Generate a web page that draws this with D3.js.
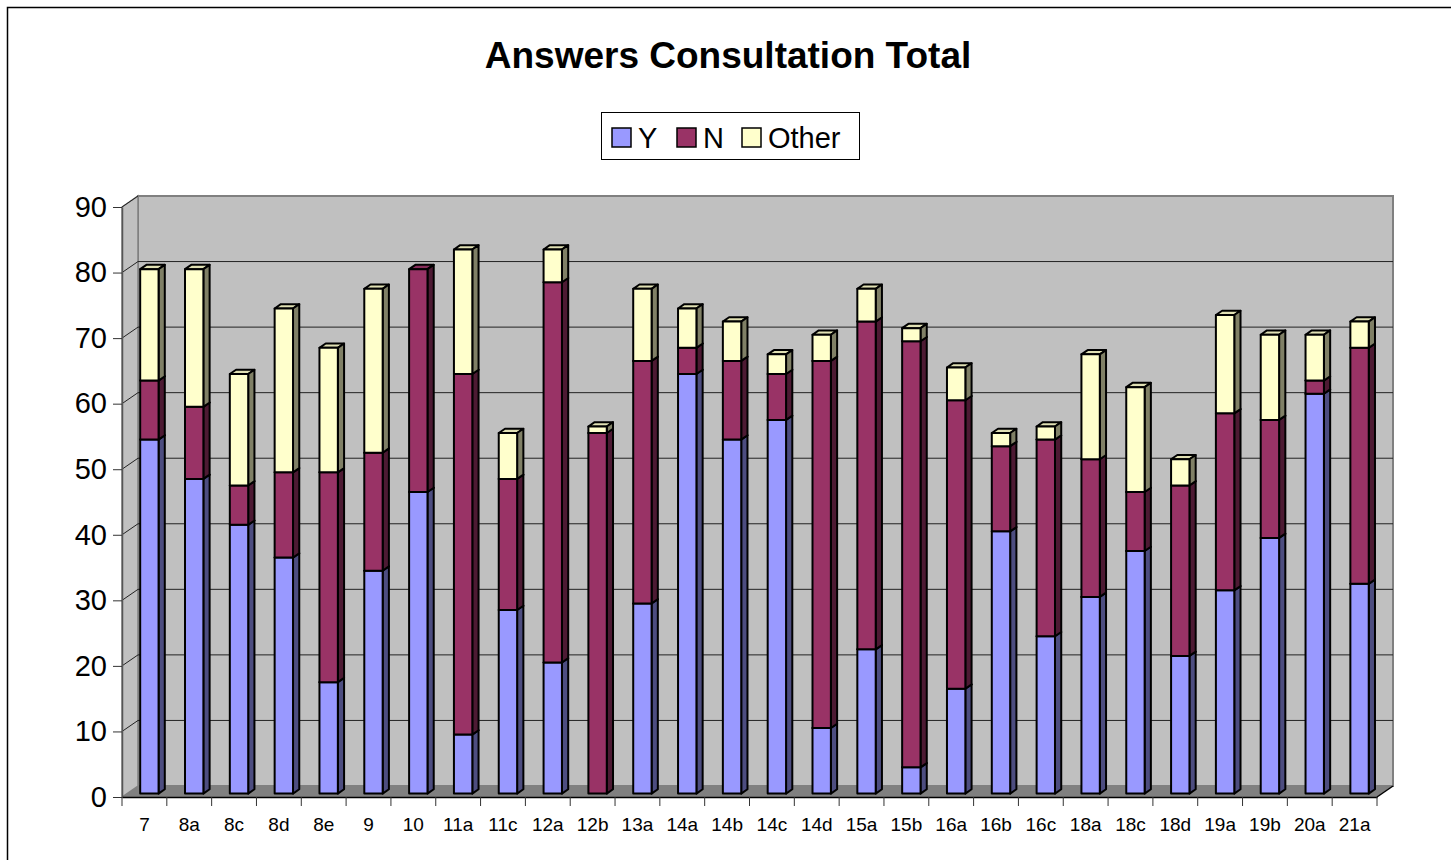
<!DOCTYPE html>
<html>
<head>
<meta charset="utf-8">
<script src="https://cdn.jsdelivr.net/npm/d3@7"></script>
<style>
	body { margin: 0; background: #fff; }
	text { font-family: Arial, "Liberation Sans", sans-serif; }
</style>
</head>
<body>
<div id="chart"></div>
<script>
const categories = ['7', '8a', '8c', '8d', '8e', '9', '10', '11a', '11c', '12a', '12b', '13a', '14a', '14b',
	'14c', '14d', '15a', '15b', '16a', '16b', '16c', '18a', '18c', '18d', '19a', '19b', '20a', '21a'];
const yesVals   = [54, 48, 41, 36, 17, 34, 46,  9, 28, 20,  0, 29, 64, 54, 57, 10, 22,  4, 16, 40, 24, 30, 37, 21, 31, 39, 61, 32];
const noVals    = [ 9, 11,  6, 13, 32, 18, 34, 55, 20, 58, 55, 37,  4, 12,  7, 56, 50, 65, 44, 13, 30, 21,  9, 26, 27, 18,  2, 36];
const otherVals = [17, 21, 17, 25, 19, 25,  0, 19,  7,  5,  1, 11,  6,  6,  3,  4,  5,  2,  5,  2,  2, 16, 16,  4, 15, 13,  7,  4];
const seriesNames = ['Y', 'N', 'Other'];
const yTicks = [0, 10, 20, 30, 40, 50, 60, 70, 80, 90];

const colors = { Y: '#9999ff', N: '#993366', Other: '#ffffcc' };

const W = 1451, H = 860;
const plot = { left: 122, right: 1377, top: 207, bottom: 797 };
// 3d depth of the walls
const DX = 16, DY = -11;
// bars sit in the middle of the depth
const t0 = 0.31, t1 = 0.70;

const svg = d3.select('#chart').append('svg')
	.attr('width', W).attr('height', H);

svg.append('rect')
	.attr('x', 7.5).attr('y', 7.5)
	.attr('width', W + 20).attr('height', H + 20)
	.attr('fill', '#fff').attr('stroke', '#000').attr('stroke-width', 1.5);

const x = d3.scaleBand()
	.domain(categories)
	.range([plot.left, plot.right])
	.paddingInner(0.59)
	.paddingOuter(0.295);
const y = d3.scaleLinear().domain([0, 90]).range([plot.bottom, plot.top]);

const pts = arr => arr.map(p => p.join(',')).join(' ');

// walls
svg.append('polygon')
	.attr('points', pts([[plot.left + DX, y(90) + DY], [plot.right + DX, y(90) + DY],
		[plot.right + DX, y(0) + DY], [plot.left + DX, y(0) + DY]]))
	.attr('fill', '#c0c0c0').attr('stroke', '#808080').attr('stroke-width', 2);
svg.append('polygon')
	.attr('points', pts([[plot.left, y(90)], [plot.left + DX, y(90) + DY],
		[plot.left + DX, y(0) + DY], [plot.left, y(0)]]))
	.attr('fill', '#c0c0c0').attr('stroke', '#808080').attr('stroke-width', 1.5);
svg.append('polygon')
	.attr('points', pts([[plot.left, y(0)], [plot.left + DX, y(0) + DY],
		[plot.right + DX, y(0) + DY], [plot.right, y(0)]]))
	.attr('fill', '#808080');

// gridlines on back and side walls
const grid = svg.append('g').attr('stroke', '#222').attr('stroke-width', 1);
yTicks.filter(v => v > 0 && v < 90).forEach(v => {
	grid.append('line')
		.attr('x1', plot.left + DX).attr('x2', plot.right + DX)
		.attr('y1', y(v) + DY).attr('y2', y(v) + DY);
});
yTicks.filter(v => v > 0).forEach(v => {
	grid.append('line')
		.attr('x1', plot.left).attr('x2', plot.left + DX)
		.attr('y1', y(v)).attr('y2', y(v) + DY);
});

// bars
const rows = categories.map((c, i) => ({ cat: c, Y: yesVals[i], N: noVals[i], Other: otherVals[i] }));
const stacked = d3.stack().keys(seriesNames)(rows);
const bw = x.bandwidth();
const bdx = (t1 - t0) * DX, bdy = (t1 - t0) * DY;

const bars = svg.append('g').attr('stroke', '#000').attr('stroke-width', 2).attr('stroke-linejoin', 'round');
stacked.forEach(s => {
	const base = d3.color(colors[s.key]);
	s.forEach(d => {
		if (d[1] === d[0]) return;
		const x0 = x(d.data.cat) + t0 * DX, x1 = x0 + bw;
		const yt = y(d[1]) + t0 * DY, yb = y(d[0]) + t0 * DY;
		const g = bars.append('g');
		g.append('polygon')
			.attr('points', pts([[x0, yt], [x0 + bdx, yt + bdy], [x1 + bdx, yt + bdy], [x1, yt]]))
			.attr('fill', base.darker(0.35));
		g.append('polygon')
			.attr('points', pts([[x1, yt], [x1 + bdx, yt + bdy], [x1 + bdx, yb + bdy], [x1, yb]]))
			.attr('fill', d3.rgb(base.r * 0.5, base.g * 0.5, base.b * 0.5));
		g.append('rect')
			.attr('x', x0).attr('y', yt)
			.attr('width', bw).attr('height', yb - yt)
			.attr('fill', base);
	});
});

// y axis
const yAxis = svg.append('g')
	.attr('transform', `translate(${plot.left},0)`)
	.call(d3.axisLeft(y).tickValues(yTicks).tickSize(9).tickSizeOuter(0).tickPadding(6));
yAxis.select('.domain').attr('stroke', '#555').attr('stroke-width', 1.5);
yAxis.selectAll('.tick line').attr('stroke', '#333');
yAxis.selectAll('text').style('font-size', '29px').attr('fill', '#000');

// x axis
const xAxis = svg.append('g')
	.attr('transform', `translate(0,${plot.bottom})`)
	.call(d3.axisBottom(x).tickSize(0).tickSizeOuter(0).tickPadding(21));
xAxis.select('.domain').attr('stroke', '#000').attr('stroke-width', 1.5);
xAxis.selectAll('text').style('font-size', '19px').attr('fill', '#000');
d3.range(categories.length + 1).forEach(i => {
	const xi = plot.left + i * x.step();
	xAxis.append('line')
		.attr('x1', xi).attr('x2', xi).attr('y1', 0).attr('y2', 9)
		.attr('stroke', '#333');
});
svg.append('line')
	.attr('x1', plot.right).attr('y1', plot.bottom)
	.attr('x2', plot.right + DX).attr('y2', plot.bottom + DY)
	.attr('stroke', '#000').attr('stroke-width', 1.5);

// title
svg.append('text')
	.attr('x', 728).attr('y', 68)
	.attr('text-anchor', 'middle')
	.style('font-size', '37px').style('font-weight', 'bold')
	.text('Answers Consultation Total');

// legend
const legend = svg.append('g');
legend.append('rect')
	.attr('x', 601.5).attr('y', 112.5).attr('width', 258).attr('height', 47)
	.attr('fill', '#fff').attr('stroke', '#000');
const legendX = [612, 677, 742];
seriesNames.forEach((k, i) => {
	legend.append('rect')
		.attr('x', legendX[i]).attr('y', 128).attr('width', 19).attr('height', 19)
		.attr('fill', colors[k]).attr('stroke', '#000').attr('stroke-width', 1.5);
	legend.append('text')
		.attr('x', legendX[i] + 26).attr('y', 148)
		.style('font-size', '29px')
		.text(k);
});
</script>
</body>
</html>
